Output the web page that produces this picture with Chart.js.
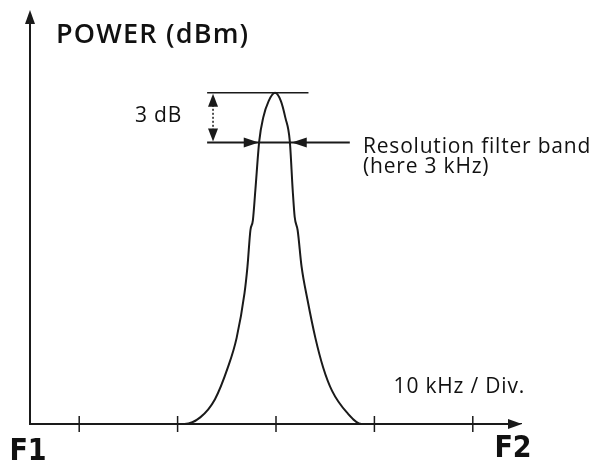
<!DOCTYPE html>
<html>
<head>
<meta charset="utf-8">
<script src="https://cdn.jsdelivr.net/npm/chart.js@4.4.1/dist/chart.umd.min.js"></script>
<style>
  html, body { margin: 0; padding: 0; background: #fff; }
  #wrap { width: 606px; height: 461px; }
</style>
</head>
<body>
<div id="wrap"><canvas id="specChart" width="606" height="461"></canvas></div>
<script>
// Кривая фильтра (частота в кГц относительно центра, мощность в дБ)
const freqKHz = [-25, -9.3, -7.7, -6.2, -4.9, -4.0, -3.2, -2.9, -2.6, -2.35, -2.1, -1.7, -1.3, -0.75, -0.1,
                 0.5, 0.95, 1.4, 1.7, 1.9, 2.2, 2.6, 3.2, 4.0, 4.8, 5.7, 7.2, 8.7, 25];
const powerDb = [-20, -20, -19.6, -18.5, -16.6, -14.8, -12.1, -10.5, -8.3, -7.7, -5.9, -2.9, -1.5, -0.5, 0,
                 -0.5, -1.5, -2.9, -5.9, -7.5, -8.3, -10.5, -12.5, -14.8, -16.6, -18.0, -19.3, -20, -20];

// Метки делений оси частот (10 кГц / дел.)
const tickKHz = [-20, -10, 0, 10, 20];
const axisLabels = ['F1', 'F2'];

// Линии разметки 3 дБ
const peakLineKHz = [-7.0, 3.3];
const bandLineKHz = [-7.0, 7.5];
const peakDb = 0;
const bandDb = -3;
const dbArrowKHz = -6.4;
const bandEdgesKHz = [-1.75, 1.6];

const ink = '#1a1a1a';
const textFont = '"Open Sans", Inter, Lato, sans-serif';

function tri(ctx, pts) {
    ctx.beginPath();
    ctx.moveTo(pts[0], pts[1]);
    ctx.lineTo(pts[2], pts[3]);
    ctx.lineTo(pts[4], pts[5]);
    ctx.closePath();
    ctx.fill();
}

// Оси со стрелками, засечки, стрелки и подписи
const sketchPlugin = {
    id: 'sketch',
    afterDatasetsDraw(chart) {
        const ctx = chart.ctx;
        const a = chart.chartArea;
        const xs = chart.scales.x;
        const ys = chart.scales.y;
        ctx.save();
        ctx.strokeStyle = ink;
        ctx.fillStyle = ink;
        ctx.lineWidth = 2;

        // оси
        ctx.beginPath();
        ctx.moveTo(a.left, a.top + 8);
        ctx.lineTo(a.left, a.bottom);
        ctx.lineTo(a.right - 8, a.bottom);
        ctx.stroke();
        tri(ctx, [a.left, a.top, a.left - 5, a.top + 14, a.left + 5, a.top + 14]);
        tri(ctx, [a.right, a.bottom, a.right - 14, a.bottom - 5, a.right - 14, a.bottom + 5]);

        // засечки
        ctx.lineWidth = 1.5;
        tickKHz.forEach(t => {
            const px = xs.getPixelForValue(t);
            ctx.beginPath();
            ctx.moveTo(px, a.bottom - 8);
            ctx.lineTo(px, a.bottom + 8);
            ctx.stroke();
        });

        // двойная стрелка 3 дБ
        const ax = xs.getPixelForValue(dbArrowKHz);
        const yTop = ys.getPixelForValue(peakDb);
        const yBand = ys.getPixelForValue(bandDb);
        ctx.setLineDash([2, 2]);
        ctx.beginPath();
        ctx.moveTo(ax, yTop + 12);
        ctx.lineTo(ax, yBand - 12);
        ctx.stroke();
        ctx.setLineDash([]);
        tri(ctx, [ax, yTop + 1, ax - 5, yTop + 14, ax + 5, yTop + 14]);
        tri(ctx, [ax, yBand - 1, ax - 5, yBand - 14, ax + 5, yBand - 14]);

        // стрелки полосы фильтра
        const lx = xs.getPixelForValue(bandEdgesKHz[0]);
        const rx = xs.getPixelForValue(bandEdgesKHz[1]);
        tri(ctx, [lx, yBand, lx - 15, yBand - 5, lx - 15, yBand + 5]);
        tri(ctx, [rx, yBand, rx + 15, yBand - 5, rx + 15, yBand + 5]);

        // подписи
        ctx.fillStyle = '#111';
        ctx.textBaseline = 'alphabetic';
        ctx.textAlign = 'left';
        ctx.font = '600 27px ' + textFont;
        ctx.letterSpacing = '1.2px';
        ctx.fillText('POWER (dBm)', 56, 43);
        ctx.font = '21px ' + textFont;
        ctx.letterSpacing = '0.8px';
        ctx.fillText('3 dB', 135, 122);
        ctx.fillText('Resolution filter band', 363, 153);
        ctx.fillText('(here 3 kHz)', 363, 173);
        ctx.textAlign = 'right';
        ctx.fillText('10 kHz / Div.', 525, 393);

        ctx.letterSpacing = '0px';
        ctx.font = 'bold 30px "Liberation Sans Narrow", "DejaVu Sans Condensed", sans-serif';
        ctx.textAlign = 'center';
        ctx.fillText(axisLabels[0], a.left - 2, 460);
        ctx.fillText(axisLabels[1], a.right - 9, 457);
        ctx.restore();
    }
};

const ctx = document.getElementById('specChart').getContext('2d');
const specChart = new Chart(ctx, {
    type: 'line',
    data: {
        datasets: [{
            data: freqKHz.map((f, i) => ({ x: f, y: powerDb[i] })),
            borderColor: ink,
            borderWidth: 2,
            pointRadius: 0,
            cubicInterpolationMode: 'monotone',
            fill: false,
        }, {
            data: peakLineKHz.map(f => ({ x: f, y: peakDb })),
            borderColor: ink,
            borderWidth: 1.5,
            pointRadius: 0,
        }, {
            data: bandLineKHz.map(f => ({ x: f, y: bandDb })),
            borderColor: ink,
            borderWidth: 2,
            pointRadius: 0,
        }]
    },
    options: {
        responsive: false,
        animation: false,
        layout: {
            padding: { left: 30, right: 84, top: 10, bottom: 37 }
        },
        plugins: {
            legend: { display: false },
            tooltip: { enabled: false }
        },
        scales: {
            x: { type: 'linear', min: -25, max: 25, display: false },
            y: { type: 'linear', min: -20, max: 5, display: false }
        }
    },
    plugins: [sketchPlugin]
});
</script>
</body>
</html>
